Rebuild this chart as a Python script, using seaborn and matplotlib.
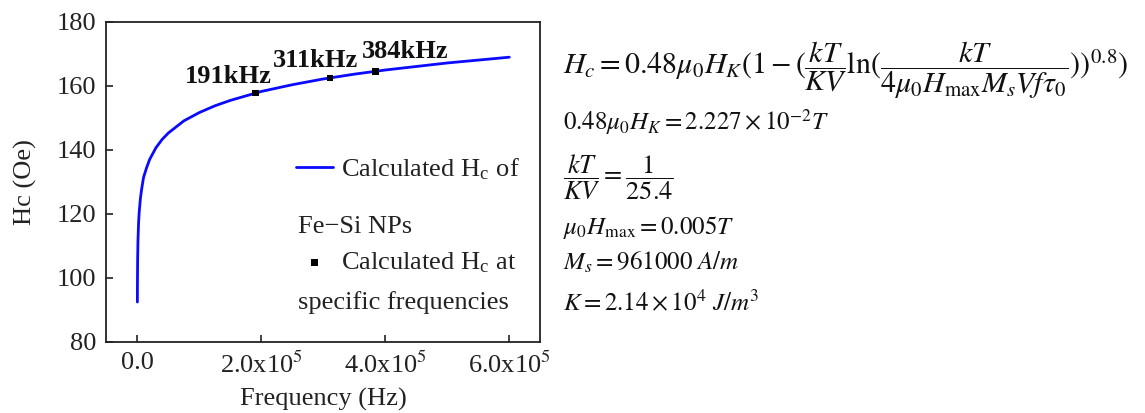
import matplotlib
matplotlib.use("Agg")
import matplotlib.pyplot as plt
import seaborn as sns
import pandas as pd

# Calculated coercivity curve of Fe-Si nanoparticles versus field frequency
freq_hz = [100, 200, 500, 1000, 2000, 3000, 5000, 7000, 1.0e4, 1.5e4, 2.0e4,
           3.0e4, 4.0e4, 5.0e4, 7.5e4, 1.0e5, 1.25e5, 1.5e5, 2.0e5, 2.5e5,
           3.0e5, 3.5e5, 4.0e5, 4.5e5, 5.0e5, 5.5e5, 6.0e5]
hc_oe = [92.5, 98.1, 105.5, 111.3, 117.1, 120.5, 124.9, 127.8, 131.4, 134.5,
         137.1, 140.7, 143.3, 145.3, 149.1, 151.7, 153.8, 155.5, 158.3, 160.4,
         162.2, 163.7, 165.0, 166.1, 167.2, 168.1, 169.0]

# Coercivity at the specific working frequencies
spec_freq_hz = [191e3, 311e3, 384e3]
spec_hc_oe = [157.8, 162.5, 164.6]
spec_labels = ["191kHz", "311kHz", "384kHz"]
label_offsets_px = [(-27, 10), (-15, 11), (30, 13)]

x_ticks = [0, 2e5, 4e5, 6e5]
x_tick_labels = ["0.0", r"2.0x10$^{5}$", r"4.0x10$^{5}$", r"6.0x10$^{5}$"]
y_ticks = [80, 100, 120, 140, 160, 180]

curve = pd.DataFrame({"freq": freq_hz, "hc": hc_oe})
points = pd.DataFrame({"freq": spec_freq_hz, "hc": spec_hc_oe})

sns.set_theme(style="ticks")
plt.rcParams["font.family"] = ["Liberation Serif", "DejaVu Serif"]
plt.rcParams["mathtext.fontset"] = "stix"
plt.rcParams["axes.edgecolor"] = "#222222"
plt.rcParams["axes.linewidth"] = 1.3

FS = 19
W, H = 1145, 413
fig = plt.figure(figsize=(W / 100, H / 100), dpi=100)
fig.patch.set_facecolor("white")
ax = fig.add_axes([105.7 / W, 1 - 342 / H, (540.3 - 105.7) / W, (342 - 22) / H])

sns.lineplot(data=curve, x="freq", y="hc", color="#0a0aff", lw=2.0,
             estimator=None, ax=ax, label="Calculated H$_\\mathregular{c}$ of")
sns.scatterplot(data=points, x="freq", y="hc", marker="s", s=22, color="black",
                edgecolor="none", ax=ax, label="Calculated H$_\\mathregular{c}$ at", zorder=5)

for f, h, txt, (dx, dy) in zip(spec_freq_hz, spec_hc_oe, spec_labels, label_offsets_px):
    ax.annotate(txt, xy=(f, h), xytext=(dx, dy), textcoords="offset pixels",
                ha="center", va="baseline", fontsize=FS, fontweight="bold", color="#111111")

ax.set_xlim(-5.1e4, 6.5e5)
ax.set_ylim(80, 180)
ax.set_xticks(x_ticks)
ax.set_xticklabels(x_tick_labels)
ax.set_yticks(y_ticks)
ax.tick_params(direction="in", length=5, width=1.2, labelsize=FS, colors="#222222",
               pad=7)
ax.set_xlabel("Frequency (Hz)", fontsize=FS, color="#222222", labelpad=7)
ax.set_ylabel("Hc (Oe)", fontsize=FS, color="#222222", labelpad=14)
for s in ax.spines.values():
    s.set_visible(True)

leg = ax.legend(loc="upper left", bbox_to_anchor=(0.438, 0.58), frameon=False,
                fontsize=FS, handlelength=1.4, handletextpad=0.3, labelspacing=2.6,
                borderpad=0, borderaxespad=0, markerscale=1.0)
for t in leg.get_texts():
    t.set_color("#222222")
ax.text(0.442, (342 - 227) / 320, "Fe\u2212Si NPs", transform=ax.transAxes,
        fontsize=FS, va="center", ha="left", color="#222222")
ax.text(0.442, (342 - 303) / 320, "specific frequencies", transform=ax.transAxes,
        fontsize=FS, va="center", ha="left", color="#222222")

# Model equation and parameters
eq_color = "#111111"
fig.text(563 / W, 1 - 74 / H,
         r"$H_c=0.48\mu_0H_K(1-(\dfrac{kT}{KV}\mathrm{ln}(\dfrac{kT}{4\mu_0H_{\mathrm{max}}M_sVf\tau_0}))^{0.8})$",
         fontsize=21.5, ha="left", va="baseline", color=eq_color)
fig.text(563 / W, 1 - 130 / H, r"$0.48\mu_0H_K=2.227\times10^{-2}T$",
         fontsize=18, ha="left", va="baseline", color=eq_color)
fig.text(563 / W, 1 - 177 / H, r"$\dfrac{kT}{KV}=\dfrac{1}{25.4}$",
         fontsize=19, ha="left", va="center", color=eq_color)
fig.text(563 / W, 1 - 234 / H, r"$\mu_0H_{\mathrm{max}}=0.005T$",
         fontsize=18, ha="left", va="baseline", color=eq_color)
fig.text(563 / W, 1 - 270 / H, r"$M_s=961000\ A/m$",
         fontsize=18, ha="left", va="baseline", color=eq_color)
fig.text(563 / W, 1 - 310 / H, r"$K=2.14\times10^{4}\ J/m^3$",
         fontsize=18, ha="left", va="baseline", color=eq_color)

fig.savefig("out.png", dpi=100, facecolor="white")
